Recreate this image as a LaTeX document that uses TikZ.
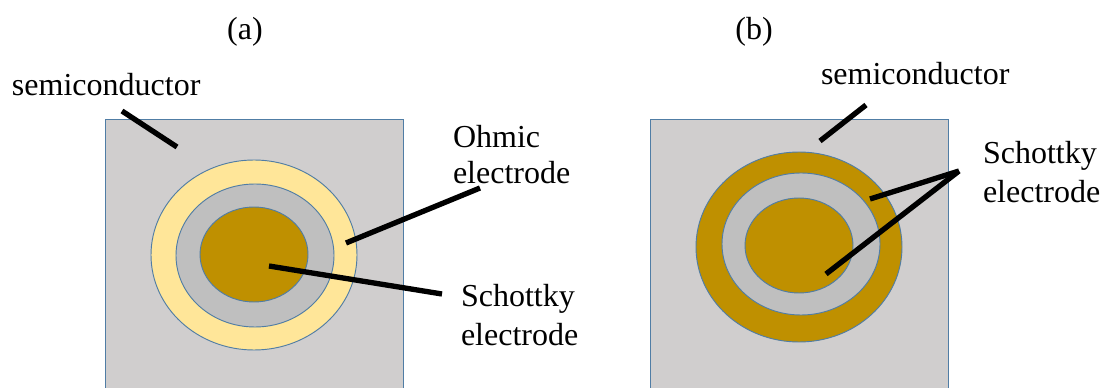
\documentclass[tikz,border=0pt]{standalone}
\usepackage{fontspec}
\setmainfont{Liberation Serif}
\usepackage{xcolor}
\usetikzlibrary{shapes.geometric, positioning, calc}

\definecolor{semigray}{RGB}{208,206,206}
\definecolor{ringgray}{RGB}{191,191,191}
\definecolor{ohmicyellow}{RGB}{255,230,153}
\definecolor{schottkygold}{RGB}{191,144,0}
\definecolor{edgeblue}{RGB}{80,125,165}

\tikzset{
  substrate/.style={draw=edgeblue, fill=semigray, rectangle, inner sep=0pt, outer sep=0pt, minimum width=298*0.75pt, minimum height=268.5*0.75pt},
  disc/.style={draw=edgeblue, ellipse, inner sep=0pt, outer sep=0pt, line width=0.7pt},
  pointer/.style={line width=4pt},
  label/.style={font=\fontsize{24}{29}\selectfont, inner sep=0pt, outer sep=0pt, align=left, text depth=0pt}
}

\begin{document}
\begin{tikzpicture}[x=0.75pt, y=-0.75pt]
\useasboundingbox (0,0) rectangle (1106,388);

% Left device
\node (subA) [substrate] at (254.5,253.75) {};
\node (outerA) [disc, fill=ohmicyellow, minimum width=206*0.75pt, minimum height=190*0.75pt] at (254,255) {};
\node (ringA) [disc, fill=ringgray, minimum width=158*0.75pt, minimum height=143*0.75pt] at (255,255.5) {};
\node (coreA) [disc, fill=schottkygold, minimum width=108*0.75pt, minimum height=95*0.75pt] at (254,254.5) {};

% Right device
\node (subB) [substrate] at (799,253.75) {};
\node (outerB) [disc, fill=schottkygold, minimum width=206*0.75pt, minimum height=190*0.75pt] at (799,247) {};
\node (ringB) [disc, fill=ringgray, minimum width=158*0.75pt, minimum height=142*0.75pt] at (801,244) {};
\node (coreB) [disc, fill=schottkygold, minimum width=108*0.75pt, minimum height=95*0.75pt] at (799,245.5) {};

% Labels
\node (capA) [label] at (245,28) {(a)};
\node (capB) [label] at (754,28) {(b)};
\node (semiA) [label, anchor=west] at (12,84.5) {semiconductor};
\node (semiB) [label, anchor=west] at (821,73) {semiconductor};
\node (ohmic) [label, anchor=west] at (453,154) {Ohmic\\[-2pt]electrode};
\node (schA) [label, anchor=west] at (461,315) {Schottky\\electrode};
\node (schB) [label, anchor=west] at (983,172) {Schottky\\electrode};

% Free ends of the pointers
\coordinate (semiAa) at (122,111);
\coordinate (semiAb) at (177,147);
\coordinate (ohmicA) at (480,188);
\coordinate (ohmicB) at (346,243);
\coordinate (schAa) at (269,266);
\coordinate (schAb) at (442,294);
\coordinate (semiBa) at (866,105);
\coordinate (semiBb) at (820,141);
\coordinate (schBtip) at (959,171);
\coordinate (schBa) at (870,199);
\coordinate (schBb) at (826,274);

% Pointers
\draw[pointer] (semiAa) -- (semiAb);
\draw[pointer] (ohmicA) -- (ohmicB);
\draw[pointer] (schAa) -- (schAb);
\draw[pointer] (semiBa) -- (semiBb);
\draw[pointer] (schBtip) -- (schBa);
\draw[pointer] (schBtip) -- (schBb);

\end{tikzpicture}
\end{document}
